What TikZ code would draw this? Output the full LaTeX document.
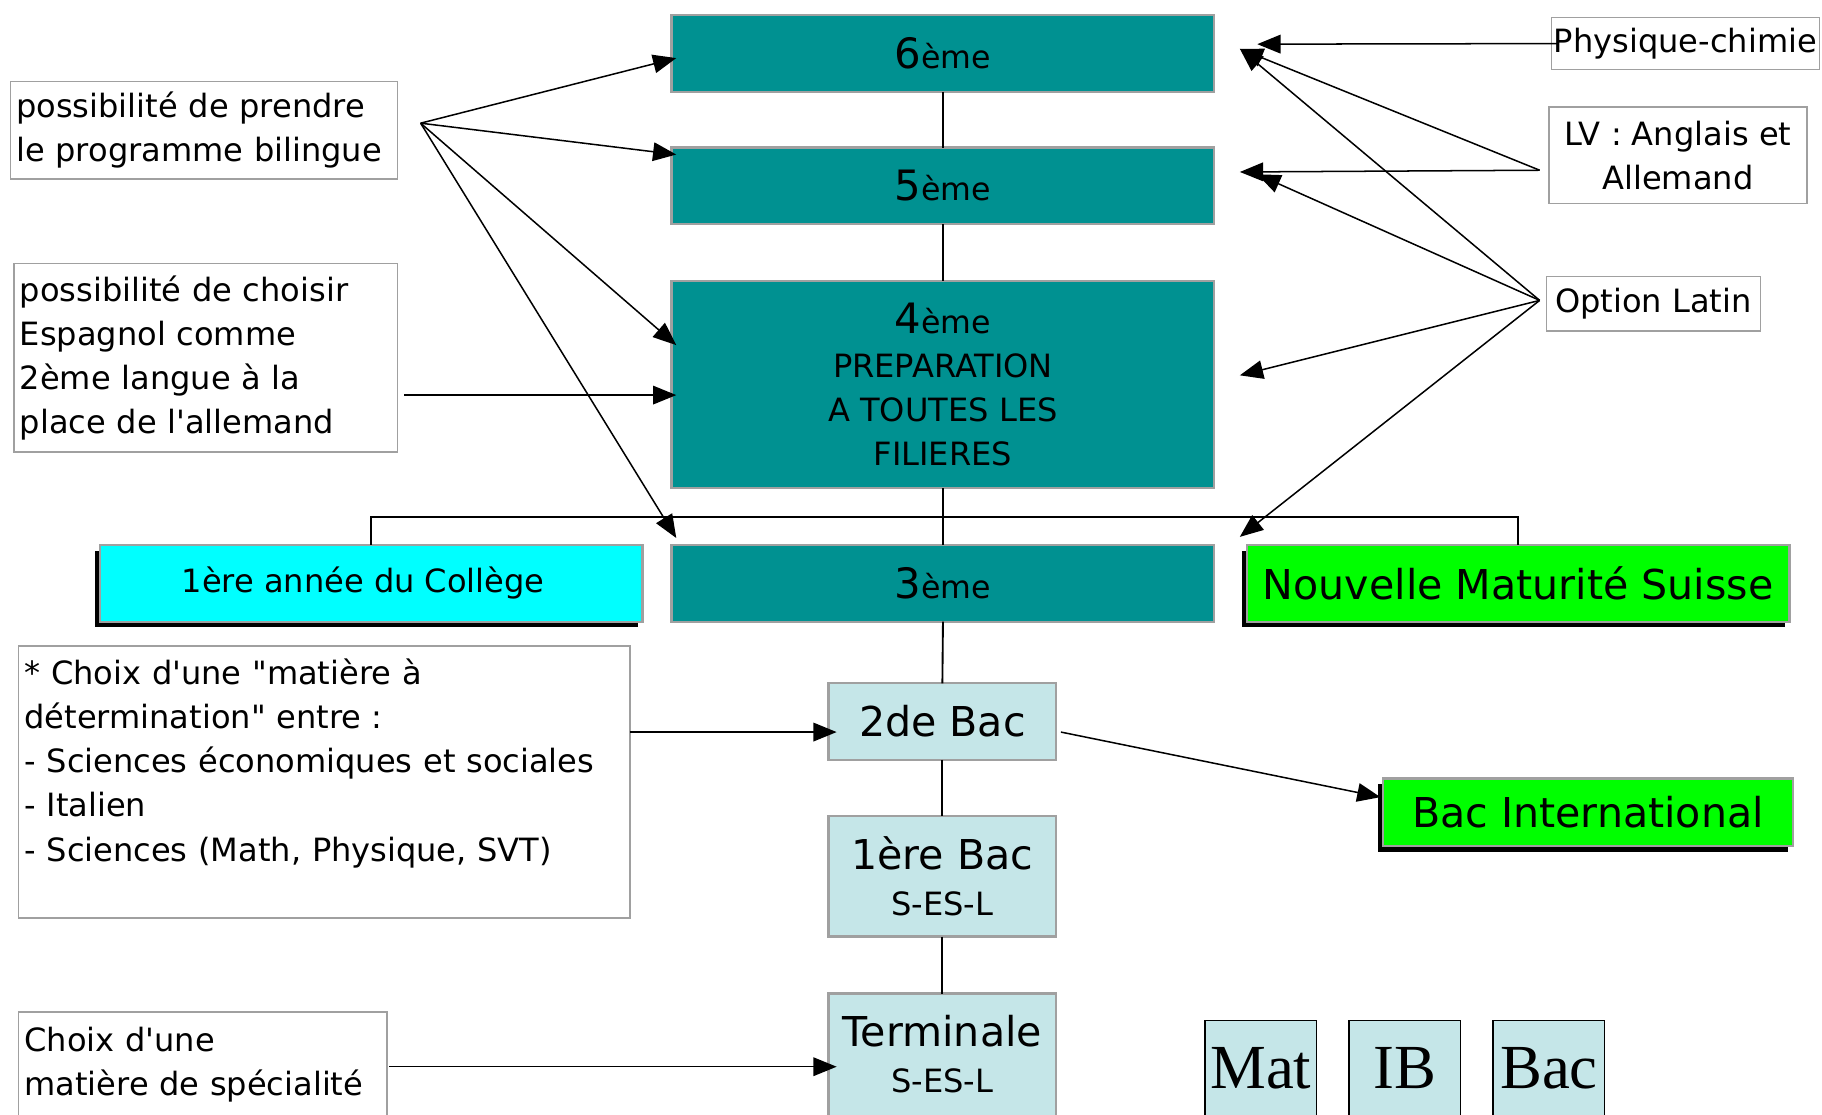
\documentclass[tikz,border=0pt]{standalone}
\usepackage{fontspec}
\setmainfont{DejaVu Sans}
\newfontfamily\seriffam{Liberation Serif}
\usetikzlibrary{arrows.meta,calc,shadows}
\definecolor{teal0}{RGB}{0,145,145}
\definecolor{lblue}{RGB}{197,230,232}
\definecolor{bgray}{RGB}{160,160,160}
\definecolor{cyanb}{RGB}{0,255,255}
\definecolor{greenb}{RGB}{0,255,0}
\newcommand\rankl[1]{{\fontsize{18}{19}\selectfont #1}{\fontsize{13.6}{19}\selectfont ème}}
\newcommand\sq{\textquotesingle}
\newcommand\dq{\textquotedbl}
\tikzset{
  every node/.style={inner sep=0pt, outer sep=0pt},
  nf/.style={font=\fontsize{13.8}{19}\selectfont},
  bf/.style={font=\fontsize{17.7}{21}\selectfont},
  tealbox/.style={draw=bgray, line width=1pt, fill=teal0, minimum width=233.5pt, minimum height=33pt, nf, align=center},
  lbbox/.style={draw=bgray, line width=1pt, fill=lblue, minimum width=98pt, bf, align=center},
  shbox/.style={draw=bgray, line width=1pt, minimum width=233.5pt, minimum height=33pt,
     drop shadow={shadow xshift=-2pt, shadow yshift=-2.5pt, fill=black, opacity=1}},
  txtbox/.style={draw=bgray, line width=0.6pt, fill=white, nf},
  serbox/.style={draw=black, line width=0.6pt, fill=lblue, minimum width=48pt, text height=29.5pt, text depth=45pt,
     font=\seriffam\fontsize{27}{27}\selectfont},
  arr/.style={-{Triangle[length=10pt,width=8pt]}, line width=0.65pt},
  ln/.style={line width=0.8pt}
}
\begin{document}
\begin{tikzpicture}[x=0.5pt,y=-0.5pt]
\useasboundingbox (0,0) rectangle (1568,959);
\clip (0,0) rectangle (1568,959);
\fill[white] (0,0) rectangle (1568,959);

% main column
\node[tealbox] (six) at (811.5,46) {\rankl{6}};
\node[tealbox] (five) at (811.5,160) {\rankl{5}};
\node[tealbox, minimum height=89pt] (four) at (811.5,331) {\rankl{4}\\PREPARATION\\A TOUTES LES\\FILIERES};
\node[tealbox] (three) at (811.5,502) {\rankl{3}};

\node[shbox, fill=cyanb, nf] (coll) at (319.5,502) {\hspace*{-7pt}1ère année du Collège};
\node[shbox, fill=greenb, bf] (nms) at (1306.5,502) {Nouvelle Maturité Suisse};
\node[shbox, fill=greenb, bf, minimum width=176.5pt, minimum height=29pt] (bi) at (1366.5,699) {Bac International};

\node[lbbox, minimum height=33pt] (sec) at (811,621) {2de Bac};
\node[lbbox, minimum height=52pt] (prem) at (811,754) {1ère Bac\\[-1pt]{\fontsize{13.8}{19}\selectfont S-ES-L}};
\node[lbbox, minimum height=75pt, anchor=north] (term) at (811,855) {};
\node[bf] (termA) at (811,887) {Terminale};
\node[nf] (termB) at (811,930) {S-ES-L};

% connectors in the column
\draw[ln] (six.south) -- (five.north);
\draw[ln] (five.south) -- (four.north);
\draw[ln] (four.south) -- (three.north);
\draw[ln] (three.south) -- (sec.north);
\draw[ln] (sec.south) -- (prem.north);
\draw[ln] (prem.south) -- (term.north);
\draw[ln] (coll.north) -- ++(0,-24) -| (nms.north);

% side text boxes
\node[txtbox, anchor=north west, minimum width=166.5pt, minimum height=42pt, text width=161.5pt, inner xsep=2.5pt, align=left] (bil) at (9,70)
  {possibilité de prendre\\le programme bilingue};
\node[txtbox, anchor=north west, minimum width=165pt, minimum height=81pt, text width=160pt, inner xsep=2.5pt, align=left] (esp) at (12,227)
  {possibilité de choisir\\Espagnol comme\\2ème langue à la\\place de l\sq allemand};
\node[txtbox, anchor=north west, minimum width=263pt, minimum height=117pt, text width=258pt, inner xsep=2.5pt, align=left] (cho) at (16,556)
  {* Choix d\sq une \dq matière à\\détermination\dq{} entre :\\- Sciences économiques et sociales\\- Italien\\- Sciences (Math, Physique, SVT)\\\mbox{}};
\node[txtbox, anchor=north west, minimum width=158.5pt, minimum height=61pt, text width=153.5pt, inner xsep=2.5pt, align=left] (spec) at (16,871)
  {Choix d\sq une\\matière de spécialité\\\mbox{}};

\node[txtbox, minimum width=115.5pt, minimum height=22.5pt] (phys) at (1450.5,37.5) {Physique-chimie};
\node[txtbox, minimum width=111pt, minimum height=41.5pt, align=center] (lv) at (1444,133.5) {LV : Anglais et\\Allemand};
\node[txtbox, minimum width=92pt, minimum height=23.5pt] (lat) at (1423,261.5) {Option Latin};

% Mat IB Bac
\node[serbox, anchor=base] (mat) at (1085,937) {Mat};
\node[serbox, anchor=base] (ib) at (1209,937) {IB};
\node[serbox, anchor=base] (bac) at (1333,937) {Bac};

% left arrows
\coordinate (bsrc) at ($(bil.east)+(20,-6)$);
\draw[arr] (bsrc) -- ($(six.west)+(4,4)$);
\draw[arr] (bsrc) -- ($(five.north west)+(4,6)$);
\draw[arr] (bsrc) -- ($(four.north west)+(4,55)$);
\draw[arr] (bsrc) -- ($(three.north west)+(4,-6)$);
\draw[arr] ($(esp.east)+(6,32)$) -- ($(four.west)+(4,9)$);

% right arrows
\draw[arr] ($(phys.west)+(5,0)$) -- ($(six.east)+(37,-8)$);
\coordinate (lsrc) at ($(lv.west)+(-8,13)$);
\draw[arr] (lsrc) -- ($(six.east)+(22,-4)$);
\draw[arr] (lsrc) -- ($(five.east)+(22,-12)$);
\coordinate (osrc) at ($(lat.west)+(-6,-3)$);
\draw[arr] (osrc) -- ($(six.east)+(22,-4)$);
\draw[arr] (osrc) -- ($(five.east)+(37,-10)$);
\draw[arr] (osrc) -- ($(four.east)+(22,-8)$);
\draw[arr] (osrc) -- ($(three.north east)+(22,-7)$);

% lower arrows
\draw[arr] ($(cho.east)+(0,-43)$) -- ($(sec.west)+(7,9)$);
\draw[arr] ($(spec.east)+(2,-14)$) -- ($(term.west)+(7,-12)$);
\draw[arr] ($(sec.east)+(4,9)$) -- ($(bi.west)+(-2,-13)$);
\end{tikzpicture}
\end{document}
